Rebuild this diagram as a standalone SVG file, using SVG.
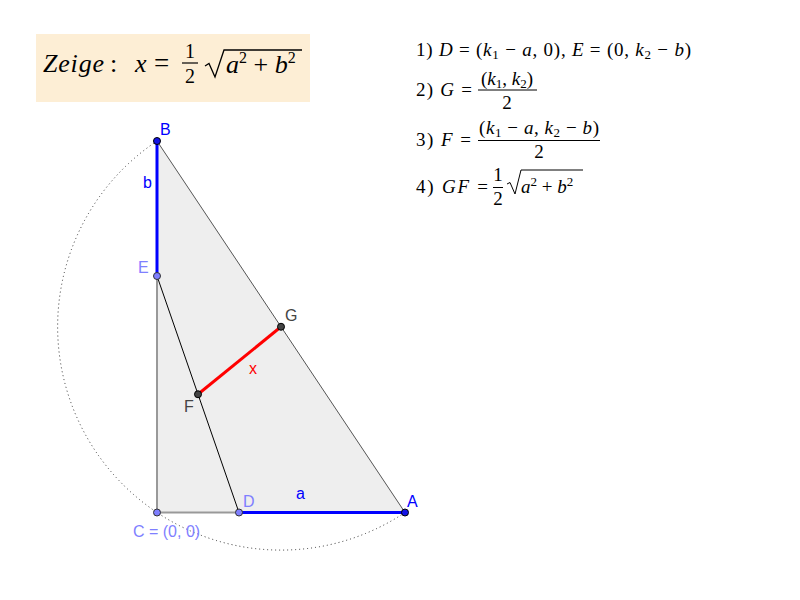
<svg xmlns="http://www.w3.org/2000/svg" width="800" height="600" viewBox="0 0 800 600">
<style>
.m{font-family:"Liberation Serif","Times New Roman",serif;font-size:19px;fill:#000}
.i{font-style:italic}
.s{font-size:13px}
.lbl{font-family:"Liberation Sans",Arial,sans-serif;font-size:16px}
.pt{stroke-width:1}
</style>
<rect width="800" height="600" fill="#ffffff"/>
<g id="title">
<rect x="36" y="34" width="274" height="68" fill="#fdeed5"/>
<text class="m i" x="43" y="72" style="font-size:26px" textLength="61" lengthAdjust="spacing">Zeige</text>
<text class="m" x="110" y="72" style="font-size:26px">:</text>
<text class="m i" x="135" y="72" style="font-size:26px">x</text>
<text class="m" x="154" y="72" style="font-size:27px">=</text>
<text class="m" x="190" y="58" text-anchor="middle" style="font-size:20px">1</text>
<line x1="182" y1="63" x2="198" y2="63" stroke="#000" stroke-width="1.2"/>
<text class="m" x="190" y="83" text-anchor="middle" style="font-size:20px">2</text>
<path d="M205 66 L209 63.5 L215 77 L224 50 L302 50" fill="none" stroke="#000" stroke-width="1.3"/>
<text class="m" x="226" y="73" style="font-size:26px"><tspan class="i">a</tspan><tspan dy="-10" style="font-size:16px">2</tspan><tspan dy="10"> + </tspan><tspan class="i">b</tspan><tspan dy="-10" style="font-size:16px">2</tspan></text>
</g>
<g id="formulas">
<text class="m" x="416" y="56" textLength="275" lengthAdjust="spacing">1) <tspan class="i">D</tspan> = (<tspan class="i">k</tspan><tspan class="s" dy="3">1</tspan><tspan dy="-3"> − </tspan><tspan class="i">a</tspan>, 0), <tspan class="i">E</tspan> = (0, <tspan class="i">k</tspan><tspan class="s" dy="3">2</tspan><tspan dy="-3"> − </tspan><tspan class="i">b</tspan>)</text>
<text class="m" x="416" y="96" textLength="56" lengthAdjust="spacing">2) <tspan class="i">G</tspan> =</text>
<text class="m" x="507" y="85" text-anchor="middle">(<tspan class="i">k</tspan><tspan class="s" dy="3">1</tspan><tspan dy="-3">, </tspan><tspan class="i">k</tspan><tspan class="s" dy="3">2</tspan><tspan dy="-3">)</tspan></text>
<line x1="478" y1="90" x2="537" y2="90" stroke="#000" stroke-width="1"/>
<text class="m" x="507" y="109" text-anchor="middle">2</text>
<text class="m" x="416" y="146" textLength="55" lengthAdjust="spacing">3) <tspan class="i">F</tspan> =</text>
<text class="m" x="539" y="134" text-anchor="middle" textLength="120" lengthAdjust="spacing">(<tspan class="i">k</tspan><tspan class="s" dy="3">1</tspan><tspan dy="-3"> − </tspan><tspan class="i">a</tspan>, <tspan class="i">k</tspan><tspan class="s" dy="3">2</tspan><tspan dy="-3"> − </tspan><tspan class="i">b</tspan>)</text>
<line x1="478" y1="140.5" x2="600" y2="140.5" stroke="#000" stroke-width="1"/>
<text class="m" x="539" y="158" text-anchor="middle">2</text>
<text class="m" x="416" y="193" textLength="72" lengthAdjust="spacing">4) <tspan class="i">GF</tspan> =</text>
<text class="m" x="498" y="181" text-anchor="middle">1</text>
<line x1="493" y1="187.5" x2="503" y2="187.5" stroke="#000" stroke-width="1"/>
<text class="m" x="498" y="205" text-anchor="middle">2</text>
<path d="M507 184 L510 182.5 L515 194 L521 170 L583 170" fill="none" stroke="#000" stroke-width="1"/>
<text class="m" x="521" y="193"><tspan class="i">a</tspan><tspan class="s" dy="-7">2</tspan><tspan dy="7"> + </tspan><tspan class="i">b</tspan><tspan class="s" dy="-7">2</tspan></text>
</g>
<g id="connectors">
<polygon points="157,512.5 405,512.5 157,141" fill="#eeeeee" stroke="none"/>
<path d="M157 141 A223.3 223.3 0 0 0 157 512.5 A223.3 223.3 0 0 0 405 512.5" fill="none" stroke="#333" stroke-width="1" stroke-dasharray="1 3"/>
<line x1="405" y1="512.5" x2="157" y2="141" stroke="#555" stroke-width="1"/>
<line x1="157" y1="512.5" x2="157" y2="276" stroke="#999" stroke-width="2"/>
<line x1="157" y1="276" x2="157" y2="141" stroke="#0000ff" stroke-width="3"/>
<line x1="157" y1="512.5" x2="239" y2="512.5" stroke="#999" stroke-width="2"/>
<line x1="239" y1="512.5" x2="405" y2="512.5" stroke="#0000ff" stroke-width="3"/>
<line x1="157" y1="276" x2="239" y2="512.5" stroke="#000" stroke-width="1"/>
<line x1="198" y1="394.25" x2="281" y2="326.75" stroke="#ff0000" stroke-width="3"/>
<text class="lbl" x="143" y="188" fill="#0000ff">b</text>
<text class="lbl" x="296" y="499" fill="#0000ff">a</text>
<text class="lbl" x="249" y="374" fill="#ff0000">x</text>
</g>
<g id="B"><circle cx="157" cy="141" r="3.5" fill="#1414e6" stroke="#000" class="pt"/><text class="lbl" x="160" y="135" fill="#0000ff">B</text></g>
<g id="A"><circle cx="405" cy="512.5" r="3.5" fill="#1414e6" stroke="#000" class="pt"/><text class="lbl" x="407" y="507" fill="#0000ff">A</text></g>
<g id="C"><circle cx="157" cy="512.5" r="3.5" fill="#7f7fff" stroke="#333" class="pt"/><text class="lbl" x="133" y="537" fill="#7f7fff">C = (0, 0)</text></g>
<g id="D"><circle cx="239" cy="512.5" r="3.5" fill="#7f7fff" stroke="#333" class="pt"/><text class="lbl" x="243" y="507" fill="#7f7fff">D</text></g>
<g id="E"><circle cx="157" cy="276" r="3.5" fill="#7f7fff" stroke="#333" class="pt"/><text class="lbl" x="138" y="273" fill="#7f7fff">E</text></g>
<g id="F"><circle cx="198" cy="394.25" r="3.5" fill="#444" stroke="#000" class="pt"/><text class="lbl" x="184" y="412" fill="#444">F</text></g>
<g id="G"><circle cx="281" cy="326.75" r="3.5" fill="#444" stroke="#000" class="pt"/><text class="lbl" x="285" y="321" fill="#444">G</text></g>
</svg>
